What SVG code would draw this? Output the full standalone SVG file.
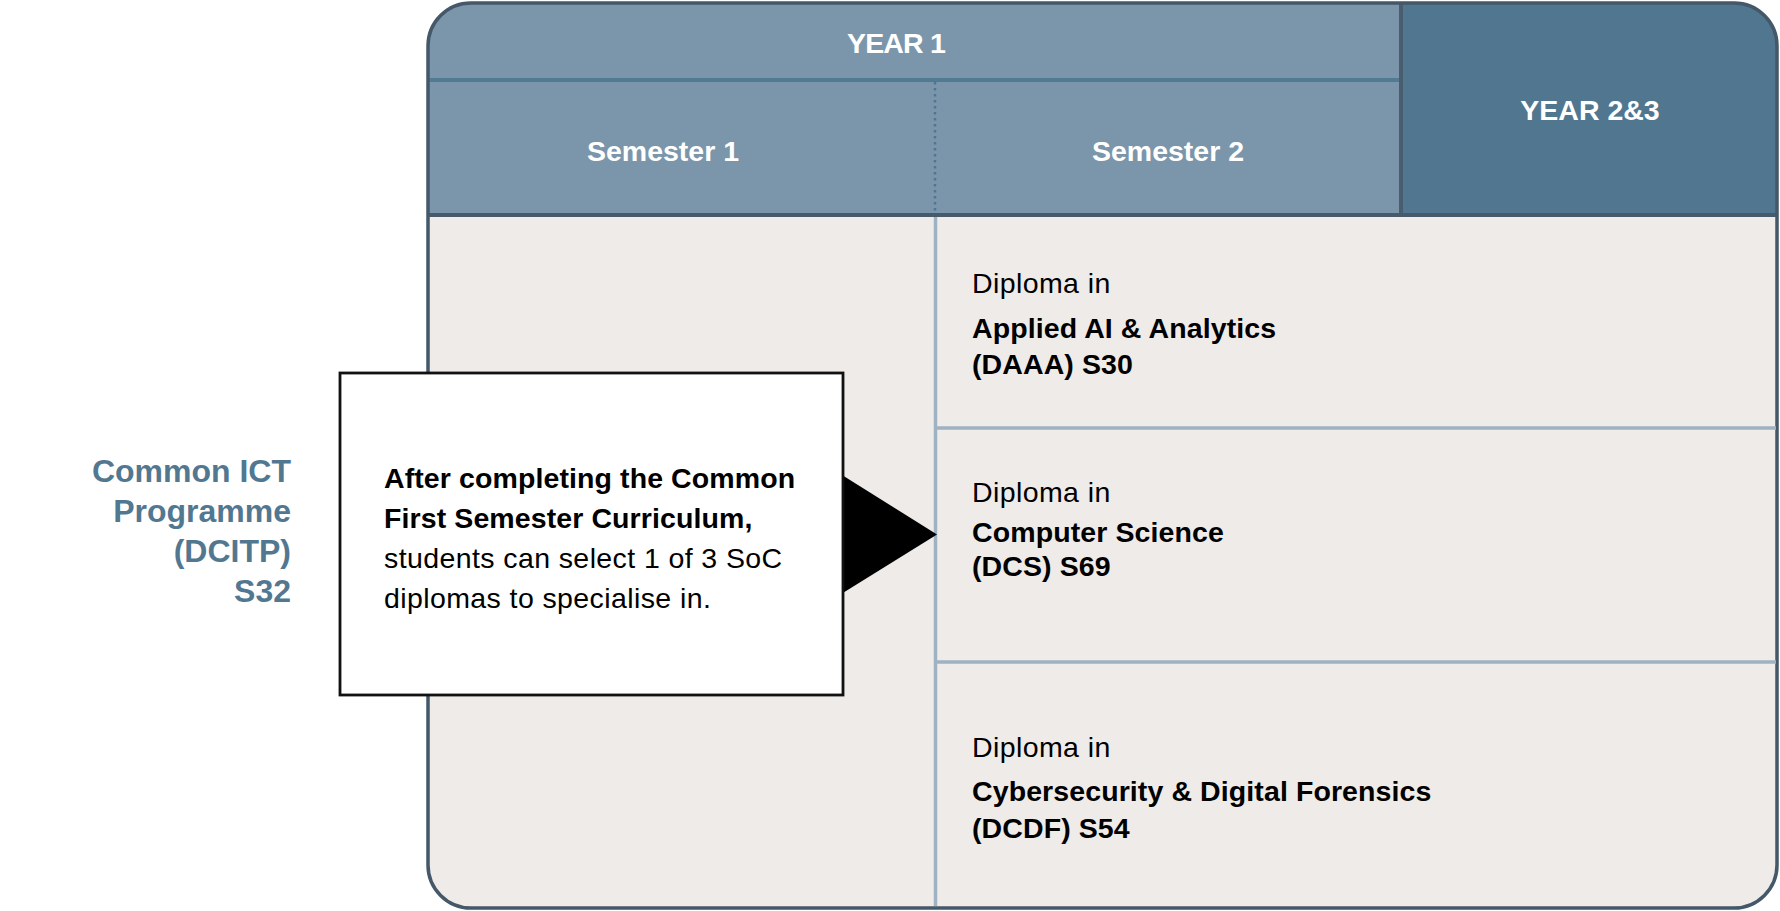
<svg xmlns="http://www.w3.org/2000/svg" width="1780" height="911" viewBox="0 0 1780 911">
<style>
.hdr{font-family:"Liberation Sans",Arial,sans-serif;font-weight:bold;font-size:28.5px;fill:#ffffff;text-anchor:middle}
.lbl{font-family:"Liberation Sans",Arial,sans-serif;font-weight:bold;font-size:32px;fill:#527891;text-anchor:end}
.t{font-family:"Liberation Sans",Arial,sans-serif;font-size:28.5px;fill:#000000;letter-spacing:0.4px}
.b{font-weight:bold;letter-spacing:0.1px}
.div{stroke:#9fb2c3;stroke-width:3.5;fill:none}
</style>
<defs>
<clipPath id="frameClip"><rect x="428" y="3" width="1349" height="905" rx="43" ry="43"/></clipPath>
</defs>
<rect width="1780" height="911" fill="#ffffff"/>
<g id="frame">
<g clip-path="url(#frameClip)">
<rect x="428" y="3" width="1349" height="905" fill="#efebe8"/>
<rect x="428" y="3" width="973" height="212" fill="#7b96ab"/>
<rect x="1401" y="3" width="376" height="212" fill="#50778f"/>
<line x1="428" y1="80" x2="1401" y2="80" stroke="#527a93" stroke-width="4"/>
<line x1="935" y1="82" x2="935" y2="213" stroke="#4f7690" stroke-width="2.5" stroke-dasharray="2.5,3.5"/>
<line x1="1401" y1="3" x2="1401" y2="215" stroke="#4a5d6e" stroke-width="4"/>
<line x1="428" y1="215" x2="1777" y2="215" stroke="#475a6b" stroke-width="4"/>
</g>
<rect x="428" y="3" width="1349" height="905" rx="43" ry="43" fill="none" stroke="#445869" stroke-width="3.5"/>
</g>
<g id="headers">
<text class="hdr" x="896" y="52.5" letter-spacing="-0.8">YEAR 1</text>
<text class="hdr" x="663" y="160.5">Semester 1</text>
<text class="hdr" x="1168" y="160.5">Semester 2</text>
<text class="hdr" x="1590" y="120">YEAR 2&amp;3</text>
</g>
<g id="connectors">
<line class="div" x1="935.5" y1="217" x2="935.5" y2="906"/>
<line class="div" x1="935.5" y1="428" x2="1776" y2="428"/>
<line class="div" x1="935.5" y1="662" x2="1776" y2="662"/>
<polygon points="842,475 937,534.5 842,593.5" fill="#000000"/>
</g>
<g id="label">
<text class="lbl" x="291" y="482">Common ICT</text>
<text class="lbl" x="291" y="522">Programme</text>
<text class="lbl" x="291" y="562">(DCITP)</text>
<text class="lbl" x="291" y="602">S32</text>
</g>
<g id="infobox">
<rect x="340" y="373" width="503" height="322" fill="#ffffff" stroke="#111111" stroke-width="2.8"/>
<text class="t b" x="384" y="488">After completing the Common</text>
<text class="t b" x="384" y="528">First Semester Curriculum,</text>
<text class="t" x="384" y="568">students can select 1 of 3 SoC</text>
<text class="t" x="384" y="608">diplomas to specialise in.</text>
</g>
<g id="daaa">
<text class="t" x="972" y="293">Diploma in</text>
<text class="t b" x="972" y="338">Applied AI &amp; Analytics</text>
<text class="t b" x="972" y="374">(DAAA) S30</text>
</g>
<g id="dcs">
<text class="t" x="972" y="502">Diploma in</text>
<text class="t b" x="972" y="542">Computer Science</text>
<text class="t b" x="972" y="576">(DCS) S69</text>
</g>
<g id="dcdf">
<text class="t" x="972" y="757">Diploma in</text>
<text class="t b" x="972" y="801">Cybersecurity &amp; Digital Forensics</text>
<text class="t b" x="972" y="838">(DCDF) S54</text>
</g>
</svg>
